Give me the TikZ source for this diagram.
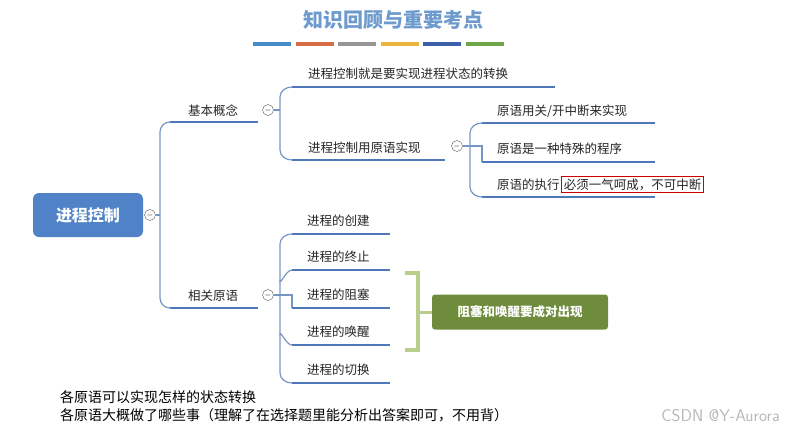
\documentclass[tikz,border=0pt]{standalone}
\usepackage{fontspec}
\newfontfamily\cjk{Noto Sans CJK SC}
\begin{document}
\begin{tikzpicture}[x=1pt,y=-1pt,
  line/.style={draw=lb,line width=1.2pt},
  ul/.style={draw=ub,line width=2pt},
  lbl/.style={font=\cjk\fontsize{12.5}{14}\selectfont,text=black!85,anchor=base west,inner sep=0pt},
  col/.style={circle,draw=gray!70!black,fill=white,minimum size=11pt,inner sep=0pt,font=\fontsize{8}{8}\selectfont}]
\definecolor{lb}{RGB}{120,150,195}
\definecolor{ub}{RGB}{80,120,185}
\definecolor{tb}{RGB}{110,155,205}
\useasboundingbox (0,0) rectangle (793,437);
\fill[white] (0,0) rectangle (793,437);
\node[font=\cjk\fontsize{20}{22}\selectfont\bfseries,text=tb] (title) at (393,20) {知识回顾与重要考点};
\foreach \c/\i in {{70,140,200}/0,{215,110,70}/1,{150,150,150}/2,{235,180,60}/3,{60,95,170}/4,{110,165,70}/5}{
  \definecolor{bc}{RGB}{\c}
  \fill[bc] (253+\i*42.5,42) rectangle (291+\i*42.5,46);}
% root
\node[fill={rgb,255:red,80;green,130;blue,200},rounded corners=6pt,minimum width=110pt,minimum height=44pt,text=white,font=\cjk\fontsize{16}{18}\selectfont\bfseries] (root) at (88,215) {进程控制};
\node[col] (c0) at (150,215) {$-$};
\draw[line] (c0) -- (160,215);
\draw[line] (160,215) -- (160,132) to[out=90,in=180] (170,122);
\draw[line] (160,215) -- (160,298) to[out=-90,in=180] (170,308);
% 基本概念
\draw[ul] (170,122) -- (258,122);
\node[lbl] (jb) at (188,115) {基本概念};
\node[col] (c1) at (268,110) {$-$};
\draw[line] (c1) -- (280,110);
\draw[line] (280,110) -- (280,97) to[out=90,in=180] (292,87);
\draw[line] (280,110) -- (280,150) to[out=-90,in=180] (292,160);
\draw[ul] (292,87) -- (555,87);
\node[lbl] (a1) at (308,78) {进程控制就是要实现进程状态的转换};
\draw[ul] (292,160) -- (445,160);
\node[lbl] (a2) at (308,152) {进程控制用原语实现};
\node[col] (c2) at (457,146) {$-$};
\draw[line] (c2) -- (470,146);
\draw[line] (470,146) -- (470,133) to[out=90,in=180] (482,123);
\draw[line] (470,146) -- (482,146) -- (482,162);
\draw[line] (470,146) -- (470,187) to[out=-90,in=180] (482,197);
\draw[ul] (482,123) -- (655,123);
\draw[ul] (482,162) -- (655,162);
\draw[ul] (482,197) -- (655,197);
\node[lbl] (b1) at (497,115) {原语用关/开中断来实现};
\node[lbl] (b2) at (497,153) {原语是一种特殊的程序};
\node[lbl] (b3) at (497,189) {原语的执行};
\node[lbl,draw=red!80!black,line width=0.8pt,inner sep=2.5pt,anchor=base west] (b4) at ([xshift=1pt]b3.base east) {必须一气呵成，不可中断};
% 相关原语
\draw[ul] (170,308) -- (258,308);
\node[lbl] (xg) at (188,300) {相关原语};
\node[col] (c3) at (268,295) {$-$};
\draw[line] (c3) -- (280,295);
\draw[line] (280,295) -- (280,244) to[out=90,in=180] (292,234);
\draw[line] (280,295) -- (280,373) to[out=-90,in=180] (292,383);
\draw[line] (280,280) to[out=-90,in=180] (292,270);
\draw[line] (280,295) -- (292,295) -- (292,308);
\draw[line] (280,335) to[out=90,in=180] (292,345);
\foreach \y/\t in {234/进程的创建,270/进程的终止,308/进程的阻塞,345/进程的唤醒,383/进程的切换}{
  \draw[ul] (292,\y) -- (390,\y);
  \node[lbl] at (307,\y-9) {\t};}
\draw[draw={rgb,255:red,185;green,205;blue,140},line width=4pt] (405,273) -- (418,273) -- (418,350) -- (405,350);
\draw[draw={rgb,255:red,185;green,205;blue,140},line width=3pt] (418,312) -- (432,312);
\node[fill={rgb,255:red,110;green,140;blue,60},rounded corners=3pt,minimum width=176pt,minimum height=35pt,text=white,font=\cjk\fontsize{12.5}{14}\selectfont\bfseries] (note) at (520,312) {阻塞和唤醒要成对出现};
\node[font=\cjk\fontsize{14}{16}\selectfont,anchor=base west,inner sep=0pt] (t1) at (60,402) {各原语可以实现怎样的状态转换};
\node[font=\cjk\fontsize{14}{16}\selectfont,anchor=base west,inner sep=0pt] (t2) at (60,420) {各原语大概做了哪些事（理解了在选择题里能分析出答案即可，不用背）};
\node[font=\fontsize{17}{19}\selectfont\sffamily,text=gray!55,anchor=base east,inner sep=0pt] (wm) at (780,421) {CSDN @Y-Aurora};
\end{tikzpicture}
\end{document}
